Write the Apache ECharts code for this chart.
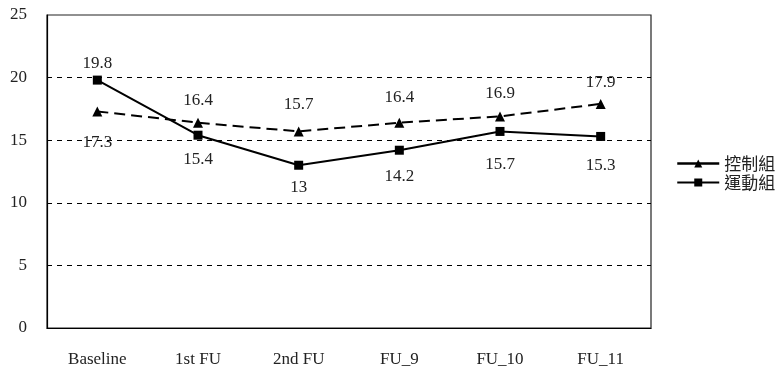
<!DOCTYPE html>
<html>
<head>
<meta charset="utf-8">
<script src="https://cdn.jsdelivr.net/npm/echarts@6/dist/echarts.min.js"></script>
<style>
  html, body { margin: 0; padding: 0; background: #fff; }
  #chart { width: 778px; height: 374px; }
</style>
</head>
<body>
<div id="chart"></div>
<script>
// Visit labels along the x axis
const categories = ['Baseline', '1st FU', '2nd FU', 'FU_9', 'FU_10', 'FU_11'];
// Group means at each visit
const controlName = '控制組';
const controlValues = [17.3, 16.4, 15.7, 16.4, 16.9, 17.9];
const exerciseName = '運動組';
const exerciseValues = [19.8, 15.4, 13, 14.2, 15.7, 15.3];
// Y axis range
const yMin = 0, yMax = 25, yStep = 5;

// Where each point's value label sits relative to its marker, and how far away
const controlLabelSide = ['bottom', 'top', 'top', 'top', 'top', 'top'];
const controlLabelGap = [18, 9, 13, 12, 9, 8];
const exerciseLabelSide = ['top', 'bottom', 'bottom', 'bottom', 'bottom', 'bottom'];
const exerciseLabelGap = [4, 11, 9, 13, 20, 16];

const serif = '"Liberation Serif", "Noto Sans CJK TC", serif';

function withLabels(values, sides, dist) {
  return values.map((v, i) => ({
    value: v,
    label: { position: sides[i], distance: dist[i] }
  }));
}

const chart = echarts.init(document.getElementById('chart'), null, { renderer: 'canvas' });
chart.setOption({
  animation: false,
  backgroundColor: '#fff',
  textStyle: { fontFamily: serif },
  grid: {
    left: 47, top: 15, right: 127, bottom: 46,
    show: true, borderColor: '#222', borderWidth: 1.2
  },
  legend: {
    orient: 'vertical',
    left: 671, top: 150,
    itemWidth: 42, itemHeight: 10, itemGap: 2,
    textStyle: { fontFamily: '"Noto Sans CJK TC", sans-serif', fontSize: 17, color: '#222' },
    data: [
      { name: controlName, lineStyle: { type: 'solid', width: 2.5 } },
      { name: exerciseName, lineStyle: { type: 'solid', width: 2 } }
    ]
  },
  xAxis: {
    type: 'category',
    data: categories,
    boundaryGap: true,
    axisLine: { lineStyle: { color: '#000', width: 1.2 } },
    axisTick: { inside: true, length: 5, lineStyle: { color: '#000' } },
    axisLabel: { color: '#222', fontSize: 17, margin: 23, fontFamily: serif }
  },
  yAxis: {
    type: 'value',
    min: yMin, max: yMax, interval: yStep,
    axisLine: { show: true, lineStyle: { color: '#000', width: 1.2 } },
    axisTick: { show: false },
    axisLabel: { color: '#222', fontSize: 17, margin: 20, fontFamily: serif },
    splitLine: {
      showMinLine: false, showMaxLine: false,
      lineStyle: { color: '#000', type: [5, 5], width: 1 }
    }
  },
  series: [
    {
      name: controlName,
      type: 'line',
      data: withLabels(controlValues, controlLabelSide, controlLabelGap),
      symbol: 'triangle',
      symbolSize: 10,
      itemStyle: { color: '#000' },
      lineStyle: { color: '#000', width: 2, type: [11, 6] },
      label: { show: true, color: '#222', fontSize: 17, fontFamily: serif },
      z: 3
    },
    {
      name: exerciseName,
      type: 'line',
      data: withLabels(exerciseValues, exerciseLabelSide, exerciseLabelGap),
      symbol: 'rect',
      symbolSize: 9,
      itemStyle: { color: '#000' },
      lineStyle: { color: '#000', width: 2, type: 'solid' },
      label: { show: true, color: '#222', fontSize: 17, fontFamily: serif },
      z: 4
    }
  ]
});
</script>
</body>
</html>
